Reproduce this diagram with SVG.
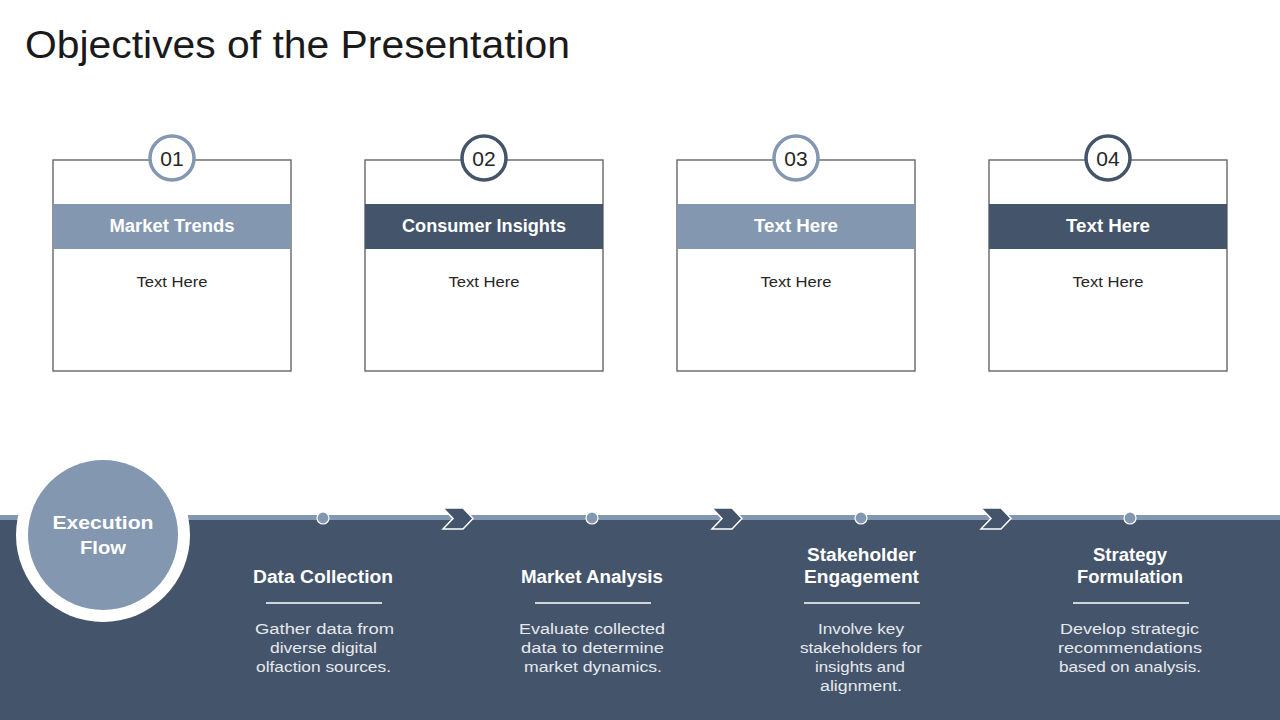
<svg xmlns="http://www.w3.org/2000/svg" width="1280" height="720" viewBox="0 0 1280 720">
<style>
.box{fill:#fff;stroke:#595959;stroke-width:1.3}
.lt{fill:#8497B0}
.dk{fill:#44546A}
.numL{fill:#fff;stroke:#8497B0;stroke-width:3.5}
.numD{fill:#fff;stroke:#44546A;stroke-width:3.5}
text{font-family:"Liberation Sans",Arial,sans-serif}
.num{font-size:21px;fill:#262626;text-anchor:middle}
.hdr{font-size:17.5px;font-weight:bold;fill:#fff;text-anchor:middle}
.body{font-size:15.5px;fill:#262626;text-anchor:middle}
.stt{font-size:17.5px;font-weight:bold;fill:#fff;text-anchor:middle}
.sdesc{font-size:15.5px;fill:#e6e9ee;text-anchor:middle}
.rule{stroke:#fff;stroke-width:1.5}
.dot{fill:#8497B0;stroke:#fff;stroke-width:1.2}
.chev{fill:#44546A;stroke:#fff;stroke-width:1.5;stroke-linejoin:miter}
</style>
<rect width="1280" height="720" fill="#fff"/>
<text x="25" y="58" font-size="38" fill="#1a1a1a" textLength="545" lengthAdjust="spacingAndGlyphs">Objectives of the Presentation</text>

<g id="card1">
<rect class="box" x="53" y="160" width="238" height="211"/>
<rect class="lt" x="53" y="204" width="238" height="45"/>
<circle class="numL" cx="172" cy="158" r="22"/>
<text class="num" x="172" y="165.5">01</text>
<text class="hdr" x="172" y="232" textLength="125" lengthAdjust="spacingAndGlyphs">Market Trends</text>
<text class="body" x="172" y="287" textLength="71" lengthAdjust="spacingAndGlyphs">Text Here</text>
</g>
<g id="card2">
<rect class="box" x="365" y="160" width="238" height="211"/>
<rect class="dk" x="365" y="204" width="238" height="45"/>
<circle class="numD" cx="484" cy="158" r="22"/>
<text class="num" x="484" y="165.5">02</text>
<text class="hdr" x="484" y="232" textLength="164" lengthAdjust="spacingAndGlyphs">Consumer Insights</text>
<text class="body" x="484" y="287" textLength="71" lengthAdjust="spacingAndGlyphs">Text Here</text>
</g>
<g id="card3">
<rect class="box" x="677" y="160" width="238" height="211"/>
<rect class="lt" x="677" y="204" width="238" height="45"/>
<circle class="numL" cx="796" cy="158" r="22"/>
<text class="num" x="796" y="165.5">03</text>
<text class="hdr" x="796" y="232" textLength="84" lengthAdjust="spacingAndGlyphs">Text Here</text>
<text class="body" x="796" y="287" textLength="71" lengthAdjust="spacingAndGlyphs">Text Here</text>
</g>
<g id="card4">
<rect class="box" x="989" y="160" width="238" height="211"/>
<rect class="dk" x="989" y="204" width="238" height="45"/>
<circle class="numD" cx="1108" cy="158" r="22"/>
<text class="num" x="1108" y="165.5">04</text>
<text class="hdr" x="1108" y="232" textLength="84" lengthAdjust="spacingAndGlyphs">Text Here</text>
<text class="body" x="1108" y="287" textLength="71" lengthAdjust="spacingAndGlyphs">Text Here</text>
</g>

<g id="band">
<rect class="dk" x="0" y="515" width="1280" height="205"/>
<rect class="lt" x="0" y="515" width="1280" height="5"/>
</g>

<g id="execution-flow">
<circle cx="103" cy="535" r="87" fill="#fff"/>
<circle class="lt" cx="103" cy="535" r="75"/>
<text class="stt" x="103" y="529" font-size="21" textLength="101" lengthAdjust="spacingAndGlyphs">Execution</text>
<text class="stt" x="103" y="554" font-size="21" textLength="46" lengthAdjust="spacingAndGlyphs">Flow</text>
</g>

<g id="connectors">
<path class="chev" d="M443,508 L463,508 L473,518.5 L463,529 L443,529 L453,518.5 Z"/>
<path class="chev" d="M712,508 L732,508 L742,518.5 L732,529 L712,529 L722,518.5 Z"/>
<path class="chev" d="M981,508 L1001,508 L1011,518.5 L1001,529 L981,529 L991,518.5 Z"/>
</g>

<g id="step1">
<circle class="dot" cx="323" cy="518" r="6"/>
<text class="stt" x="323" y="583" textLength="140" lengthAdjust="spacingAndGlyphs">Data Collection</text>
<line class="rule" x1="266" y1="603" x2="382" y2="603"/>
<text class="sdesc" x="324.5" y="634" textLength="139" lengthAdjust="spacingAndGlyphs">Gather data from</text>
<text class="sdesc" x="323.5" y="653" textLength="107" lengthAdjust="spacingAndGlyphs">diverse digital</text>
<text class="sdesc" x="323.5" y="672" textLength="135" lengthAdjust="spacingAndGlyphs">olfaction sources.</text>
</g>
<g id="step2">
<circle class="dot" cx="592" cy="518" r="6"/>
<text class="stt" x="592" y="583" textLength="142" lengthAdjust="spacingAndGlyphs">Market Analysis</text>
<line class="rule" x1="535" y1="603" x2="651" y2="603"/>
<text class="sdesc" x="592" y="634" textLength="146" lengthAdjust="spacingAndGlyphs">Evaluate collected</text>
<text class="sdesc" x="592.5" y="653" textLength="143" lengthAdjust="spacingAndGlyphs">data to determine</text>
<text class="sdesc" x="593" y="672" textLength="138" lengthAdjust="spacingAndGlyphs">market dynamics.</text>
</g>
<g id="step3">
<circle class="dot" cx="861" cy="518" r="6"/>
<text class="stt" x="861.5" y="561" textLength="109" lengthAdjust="spacingAndGlyphs">Stakeholder</text>
<text class="stt" x="861.5" y="583" textLength="115" lengthAdjust="spacingAndGlyphs">Engagement</text>
<line class="rule" x1="804" y1="603" x2="920" y2="603"/>
<text class="sdesc" x="861" y="634" textLength="86" lengthAdjust="spacingAndGlyphs">Involve key</text>
<text class="sdesc" x="861" y="653" textLength="122" lengthAdjust="spacingAndGlyphs">stakeholders for</text>
<text class="sdesc" x="860" y="672" textLength="90" lengthAdjust="spacingAndGlyphs">insights and</text>
<text class="sdesc" x="861" y="691" textLength="82" lengthAdjust="spacingAndGlyphs">alignment.</text>
</g>
<g id="step4">
<circle class="dot" cx="1130" cy="518" r="6"/>
<text class="stt" x="1130" y="561" textLength="74" lengthAdjust="spacingAndGlyphs">Strategy</text>
<text class="stt" x="1130" y="583" textLength="106" lengthAdjust="spacingAndGlyphs">Formulation</text>
<line class="rule" x1="1073" y1="603" x2="1189" y2="603"/>
<text class="sdesc" x="1129.5" y="634" textLength="139" lengthAdjust="spacingAndGlyphs">Develop strategic</text>
<text class="sdesc" x="1130" y="653" textLength="144" lengthAdjust="spacingAndGlyphs">recommendations</text>
<text class="sdesc" x="1130" y="672" textLength="142" lengthAdjust="spacingAndGlyphs">based on analysis.</text>
</g>
</svg>
